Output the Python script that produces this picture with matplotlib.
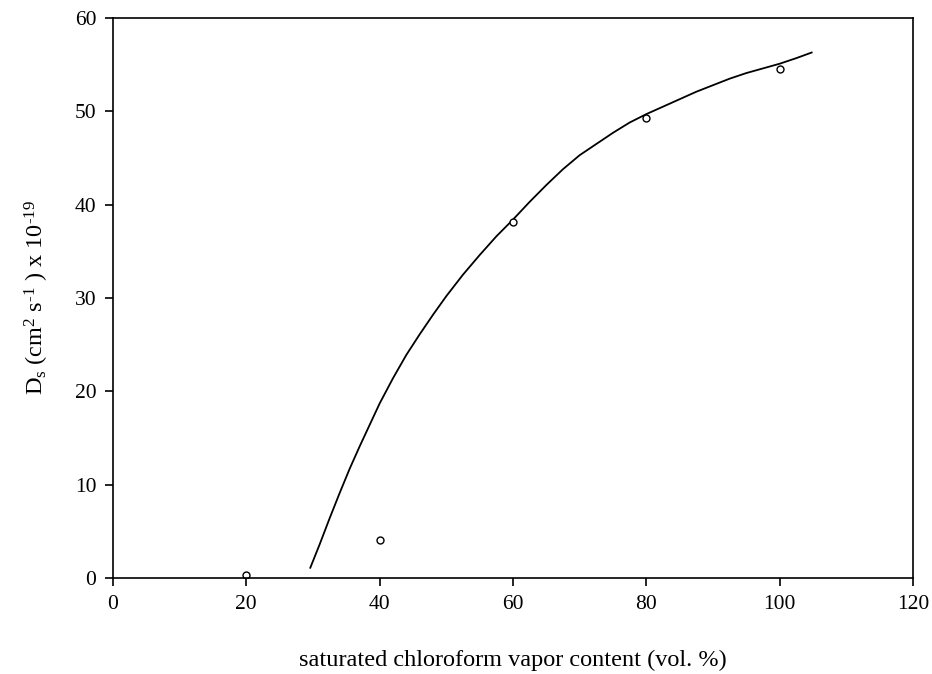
import matplotlib
matplotlib.use("Agg")
import matplotlib.pyplot as plt

# measured data points
x_pts = [20, 40, 60, 80, 100]
y_pts = [0.3, 4.05, 38.1, 49.25, 54.55]

# fitted curve
x_fit = [29.6, 31.0, 32.5, 34.0, 35.5, 37.0, 38.5, 40.0, 42.0, 44.0, 46.0,
         48.0, 50.0, 52.5, 55.0, 57.5, 60.0, 62.5, 65.0, 67.5, 70.0, 72.5,
         75.0, 77.5, 80.0, 82.5, 85.0, 87.5, 90.0, 92.5, 95.0, 97.5, 100.0,
         102.5, 104.8]
y_fit = [1.1, 3.6, 6.4, 9.1, 11.7, 14.1, 16.4, 18.7, 21.4, 23.9, 26.1,
         28.2, 30.2, 32.5, 34.6, 36.6, 38.4, 40.3, 42.1, 43.8, 45.3, 46.5,
         47.7, 48.8, 49.7, 50.5, 51.3, 52.1, 52.8, 53.5, 54.1, 54.6, 55.1,
         55.7, 56.3]

x_ticks = [0, 20, 40, 60, 80, 100, 120]
y_ticks = [0, 10, 20, 30, 40, 50, 60]

plt.rcParams['font.family'] = ['Liberation Serif', 'DejaVu Serif']
plt.rcParams['mathtext.fontset'] = 'custom'
plt.rcParams['mathtext.rm'] = 'Liberation Serif'
plt.rcParams['mathtext.it'] = 'Liberation Serif:italic'

fig = plt.figure(figsize=(9.32, 6.74), dpi=100)
ax = fig.add_axes([0.1212, 0.1424, 0.8584, 0.8309])

ax.plot(x_fit, y_fit, color='black', lw=1.3)
ax.plot(x_pts, y_pts, linestyle='none', marker='o', ms=5, mfc='white',
        mec='black', mew=1.0)

ax.set_xlim(0, 120)
ax.set_ylim(0, 60)
ax.set_xticks(x_ticks)
ax.set_yticks(y_ticks)
ax.tick_params(direction='out', length=6, width=1.2, labelsize=15.5, pad=6)
for s in ax.spines.values():
    s.set_linewidth(1.2)

ax.set_xlabel('saturated chloroform vapor content (vol. %)', fontsize=17.5, labelpad=26)
ax.set_ylabel(r'D$_{\mathrm{s}}$ (cm$^{\mathrm{2}}$ s$^{\text{-1}}$ ) x 10$^{\text{-19}}$',
              fontsize=17.5, labelpad=17)

fig.savefig('out.png', dpi=100)
